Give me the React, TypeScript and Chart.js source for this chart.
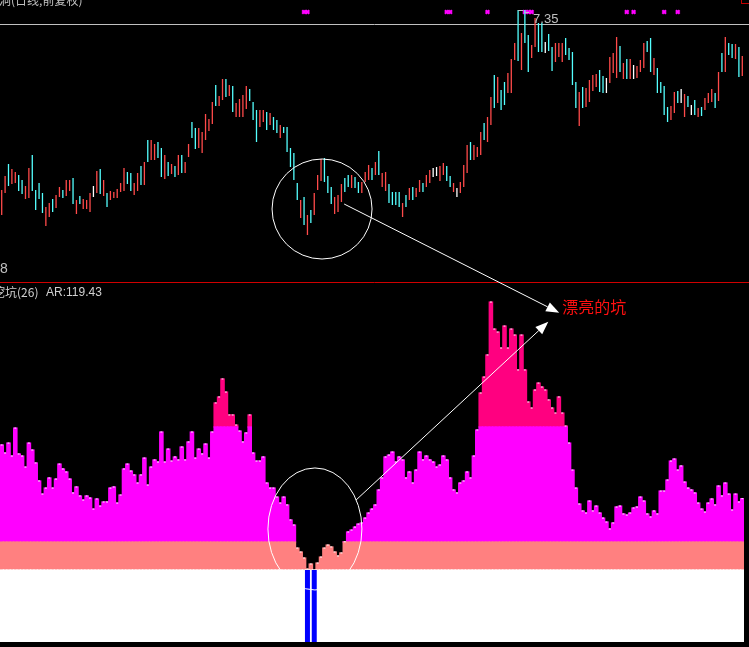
import React, { useEffect, useRef } from 'react';
import { Chart, registerables } from 'chart.js';

Chart.register(...registerables);

// ---- price panel (daily candles) ----
const HIGH = [
  5.55, 5.69, 5.81, 5.76, 5.73, 5.70, 5.65, 5.59, 5.77, 5.90,
  5.55, 5.62, 5.52, 5.38, 5.42, 5.46, 5.50, 5.58, 5.55, 5.65,
  5.65, 5.67, 5.45, 5.49, 5.46, 5.45, 5.52, 5.59, 5.74, 5.76,
  5.65, 5.52, 5.54, 5.53, 5.56, 5.62, 5.77, 5.73, 5.72, 5.62,
  5.72, 5.79, 5.83, 6.05, 6.05, 6.01, 6.03, 5.97, 5.90, 5.83,
  5.81, 5.79, 5.90, 5.90, 5.83, 6.01, 6.23, 6.17, 6.17, 6.13,
  6.31, 6.26, 6.43, 6.60, 6.49, 6.66, 6.66, 6.60, 6.59, 6.42,
  6.46, 6.50, 6.59, 6.56, 6.43, 6.35, 6.35, 6.35, 6.33, 6.32,
  6.28, 6.25, 6.20, 6.18, 6.18, 5.97, 5.92, 5.62, 5.45, 5.48,
  5.30, 5.35, 5.52, 5.70, 5.86, 5.87, 5.69, 5.58, 5.48, 5.50,
  5.61, 5.67, 5.70, 5.70, 5.68, 5.63, 5.63, 5.73, 5.80, 5.77,
  5.83, 5.94, 5.72, 5.73, 5.61, 5.53, 5.53, 5.53, 5.42, 5.50,
  5.57, 5.58, 5.57, 5.65, 5.62, 5.70, 5.75, 5.77, 5.78, 5.79,
  5.82, 5.79, 5.69, 5.62, 5.57, 5.63, 5.80, 6.00, 6.03, 6.00,
  5.98, 6.13, 6.22, 6.28, 6.48, 6.70, 6.68, 6.55, 6.63, 6.72,
  6.86, 7.02, 7.35, 7.12, 7.35, 7.10, 7.00, 7.27, 7.22, 7.22,
  7.03, 7.11, 6.98, 7.02, 7.02, 7.02, 7.07, 6.97, 6.93, 6.63,
  6.53, 6.58, 6.57, 6.65, 6.70, 6.71, 6.75, 6.69, 6.67, 6.88,
  6.92, 7.08, 6.99, 6.82, 6.86, 6.86, 6.80, 6.79, 6.85, 7.02,
  7.04, 7.07, 6.87, 6.77, 6.63, 6.59, 6.38, 6.39, 6.53, 6.54,
  6.56, 6.51, 6.49, 6.40, 6.45, 6.37, 6.38, 6.47, 6.52, 6.56,
  6.52, 6.73, 6.92, 7.08, 7.02, 7.01, 7.01, 6.98, 6.89,
];
const LOW = [
  5.30, 5.52, 5.59, 5.61, 5.62, 5.54, 5.51, 5.46, 5.47, 5.54,
  5.35, 5.46, 5.32, 5.19, 5.28, 5.33, 5.37, 5.48, 5.47, 5.49,
  5.54, 5.41, 5.31, 5.41, 5.36, 5.36, 5.33, 5.48, 5.52, 5.51,
  5.49, 5.38, 5.45, 5.47, 5.47, 5.53, 5.54, 5.61, 5.54, 5.50,
  5.54, 5.60, 5.60, 5.83, 5.85, 5.85, 5.87, 5.68, 5.66, 5.69,
  5.71, 5.68, 5.70, 5.72, 5.72, 5.88, 6.07, 5.96, 5.97, 5.92,
  6.05, 6.14, 6.21, 6.39, 6.39, 6.45, 6.48, 6.49, 6.33, 6.28,
  6.28, 6.28, 6.36, 6.44, 6.25, 6.03, 6.18, 6.23, 6.15, 6.20,
  6.15, 6.12, 6.07, 6.12, 5.93, 5.78, 5.65, 5.45, 5.27, 5.20,
  5.10, 5.22, 5.30, 5.55, 5.64, 5.63, 5.52, 5.41, 5.31, 5.33,
  5.43, 5.53, 5.58, 5.57, 5.57, 5.52, 5.52, 5.63, 5.65, 5.65,
  5.70, 5.70, 5.58, 5.54, 5.42, 5.40, 5.40, 5.38, 5.28, 5.38,
  5.45, 5.45, 5.48, 5.53, 5.53, 5.58, 5.62, 5.68, 5.69, 5.64,
  5.70, 5.64, 5.58, 5.53, 5.48, 5.52, 5.58, 5.72, 5.85, 5.85,
  5.88, 5.90, 6.05, 6.03, 6.20, 6.37, 6.42, 6.35, 6.40, 6.52,
  6.52, 6.85, 6.84, 6.75, 7.02, 6.73, 6.87, 6.98, 6.93, 6.93,
  6.92, 6.94, 6.74, 6.83, 6.88, 6.83, 6.90, 6.85, 6.60, 6.37,
  6.19, 6.37, 6.38, 6.43, 6.54, 6.58, 6.53, 6.52, 6.52, 6.62,
  6.72, 6.67, 6.73, 6.66, 6.66, 6.66, 6.66, 6.67, 6.73, 6.77,
  6.93, 6.73, 6.70, 6.52, 6.52, 6.30, 6.23, 6.25, 6.32, 6.42,
  6.42, 6.28, 6.38, 6.30, 6.30, 6.28, 6.29, 6.35, 6.42, 6.43,
  6.37, 6.44, 6.73, 6.73, 6.90, 6.87, 6.86, 6.68, 6.69,
];
// r = up (red), c = down (cyan), w = flat (white)
const DIR =
  'rrcrrccrrc' + 'cccrrcrrcr' + 'rcrcrrrwrc' + 'rcrrrrrccr' + 'rcrcrrccrc' +
  'rcrcrrccrr' + 'rrrcrrcrcr' + 'rrrcccrrcr' + 'ccrcccccrc' + 'rcrrrcccrr' +
  'rccrccrrrc' + 'rcrrccccrc' + 'rcrrcrrwwr' + 'rccrwrrrcr' + 'rrcrrcrccr' +
  'rrcrccrrcc' + 'wccrrrcccc' + 'rcrrrrccwr' + 'rrcrcrwrrr' + 'ccrccccrrc' +
  'wrcwcrcrrr' + 'crcrccrcr';

const HIGH_LABEL = '7.35';
const HIGH_INDEX = 152;
const FRAME_PRICE = 7.21;
const SIGNAL_PRICE = 7.33;
const SIGNALS = [89, 90, 131, 132, 143, 154, 155, 156, 184, 186, 195, 199];

// ---- indicator panel: 挖坑(26) AR ----
const AR = [
  164.2, 157.5, 165.8, 155.0, 178.3, 156.7, 155.0, 145.8, 165.8, 160.0,
  149.2, 134.2, 123.3, 128.3, 136.7, 128.3, 135.8, 148.3, 144.2, 141.7,
  135.8, 124.2, 129.2, 121.7, 118.3, 121.7, 120.0, 110.8, 119.2, 113.3,
  116.7, 116.7, 128.3, 129.2, 115.8, 122.5, 144.2, 148.3, 142.5, 139.2,
  132.5, 139.2, 153.3, 130.8, 145.8, 151.7, 150.0, 175.0, 150.0, 160.8,
  150.8, 154.2, 151.7, 162.5, 151.7, 166.7, 175.0, 153.3, 160.8, 156.7,
  165.0, 153.3, 175.0, 199.2, 204.2, 219.2, 208.3, 189.2, 189.2, 180.8,
  175.8, 166.7, 174.2, 189.2, 157.5, 150.8, 150.8, 154.2, 132.5, 128.3,
  128.3, 120.8, 115.8, 120.8, 114.2, 101.7, 97.5, 78.3, 75.0, 70.0,
  60.8, 65.0, 60.0, 65.8, 70.8, 78.3, 80.8, 79.2, 75.0, 71.7,
  74.2, 83.5, 91.7, 93.3, 95.8, 98.3, 99.2, 103.3, 107.5, 110.8,
  114.2, 126.7, 136.7, 154.2, 155.8, 158.3, 150.0, 154.2, 151.7, 136.7,
  141.7, 132.5, 143.3, 158.3, 151.7, 155.0, 151.7, 150.0, 145.8, 147.5,
  155.0, 151.7, 136.7, 126.7, 124.2, 132.5, 134.2, 141.7, 136.7, 155.0,
  176.7, 207.5, 220.8, 239.2, 283.3, 260.8, 258.3, 245.0, 263.3, 245.0,
  260.8, 255.8, 226.7, 255.8, 226.7, 200.0, 195.0, 210.0, 215.8, 212.5,
  210.0, 201.7, 195.0, 190.8, 204.2, 190.8, 180.0, 165.8, 143.3, 128.3,
  115.0, 109.2, 107.5, 117.5, 109.2, 113.3, 107.5, 103.3, 100.0, 94.2,
  99.2, 112.5, 113.3, 106.7, 105.8, 107.5, 111.7, 112.5, 120.8, 117.5,
  106.7, 104.2, 109.2, 106.7, 125.8, 125.8, 135.0, 150.8, 152.5, 143.3,
  146.7, 133.3, 128.3, 126.7, 124.2, 115.8, 110.8, 108.3, 115.8, 119.2,
  114.2, 130.0, 121.7, 132.5, 123.3, 110.0, 123.3, 116.7, 119.43,
];
const AR_WHITE = 60;
const AR_SALMON = 83.3;
const AR_MAGENTA = 179.2;
const PIT_BARS = [90, 92];
const AR_NAME = '挖坑(26)';
const AR_TEXT = 'AR:119.43';

// annotations (data coordinates)
const NOTE_TEXT = '漂亮的坑';
const NOTE_AT = { index: 165, ar: 286 };
const CIRCLE_TOP = { index: 94.3, price: 5.36, r: 50 };
const ELLIPSE_BOT = { index: 92.2, ar: 94.2, rx: 47, ry: 61 };
const ARROW_1 = { from: { index: 100.8, price: 5.41 }, to: { index: 164.1, ar: 274.4 } };
const ARROW_2 = { from: { index: 104.3, ar: 118.3 }, to: { index: 160.9, ar: 266.9 } };

const LABELS = HIGH.map((_, i) => String(i + 1));
const DIR_COLOR: Record<string, string> = { r: '#FF4A4A', c: '#54FFFF', w: '#FFFFFF' };

function drawArrow(ctx: CanvasRenderingContext2D, x1: number, y1: number, x2: number, y2: number) {
  const a = Math.atan2(y2 - y1, x2 - x1);
  const L = 13;
  const H = 5;
  const bx = x2 - L * Math.cos(a);
  const by = y2 - L * Math.sin(a);
  ctx.beginPath();
  ctx.moveTo(x1, y1);
  ctx.lineTo(bx, by);
  ctx.stroke();
  ctx.beginPath();
  ctx.moveTo(x2, y2);
  ctx.lineTo(bx + H * Math.sin(a), by - H * Math.cos(a));
  ctx.lineTo(bx - H * Math.sin(a), by + H * Math.cos(a));
  ctx.closePath();
  ctx.fill();
}

const overlayPlugin = {
  id: 'overlay',
  beforeDraw(chart: any) {
    const { ctx, width, height } = chart;
    ctx.save();
    ctx.fillStyle = '#000000';
    ctx.fillRect(0, 0, width, height);
    ctx.restore();
  },
  beforeDatasetsDraw(chart: any) {
    const { ctx, width } = chart;
    const yT = chart.scales.yTop;
    ctx.save();
    ctx.lineWidth = 1;
    ctx.strokeStyle = '#C0C0C0';
    const gy = Math.round(yT.getPixelForValue(FRAME_PRICE)) + 0.5;
    ctx.beginPath();
    ctx.moveTo(0, gy);
    ctx.lineTo(width, gy);
    ctx.stroke();
    ctx.strokeStyle = '#D00000';
    const sy = Math.round(yT.bottom) + 0.5;
    ctx.beginPath();
    ctx.moveTo(0, sy);
    ctx.lineTo(width, sy);
    ctx.stroke();
    ctx.restore();
  },
  afterDatasetsDraw(chart: any) {
    const { ctx } = chart;
    const x = chart.scales.x;
    const yT = chart.scales.yTop;
    const yB = chart.scales.yBot;
    ctx.save();
    ctx.strokeStyle = '#FFFFFF';
    ctx.fillStyle = '#FFFFFF';
    ctx.lineWidth = 1;
    ctx.beginPath();
    ctx.arc(x.getPixelForValue(CIRCLE_TOP.index), yT.getPixelForValue(CIRCLE_TOP.price), CIRCLE_TOP.r, 0, Math.PI * 2);
    ctx.stroke();
    ctx.beginPath();
    ctx.ellipse(x.getPixelForValue(ELLIPSE_BOT.index), yB.getPixelForValue(ELLIPSE_BOT.ar), ELLIPSE_BOT.rx, ELLIPSE_BOT.ry, 0, 0, Math.PI * 2);
    ctx.stroke();
    drawArrow(ctx,
      x.getPixelForValue(ARROW_1.from.index), yT.getPixelForValue(ARROW_1.from.price),
      x.getPixelForValue(ARROW_1.to.index), yB.getPixelForValue(ARROW_1.to.ar));
    drawArrow(ctx,
      x.getPixelForValue(ARROW_2.from.index), yB.getPixelForValue(ARROW_2.from.ar),
      x.getPixelForValue(ARROW_2.to.index), yB.getPixelForValue(ARROW_2.to.ar));
    const hx = x.getPixelForValue(HIGH_INDEX);
    const hy = yT.getPixelForValue(HIGH[HIGH_INDEX]);
    ctx.strokeStyle = '#C0C0C0';
    ctx.beginPath();
    ctx.moveTo(hx, Math.round(hy) + 0.5);
    ctx.lineTo(hx + 5, Math.round(hy) + 0.5);
    ctx.moveTo(hx + 7, Math.round(hy) + 2.5);
    ctx.lineTo(hx + 11, Math.round(hy) + 2.5);
    ctx.stroke();
    ctx.fillStyle = '#C0C0C0';
    ctx.font = "13px 'Liberation Sans'";
    ctx.textBaseline = 'alphabetic';
    ctx.fillText(HIGH_LABEL, hx + 15, hy + 13);
    ctx.restore();
  },
  afterDraw(chart: any) {
    const { ctx, width } = chart;
    const x = chart.scales.x;
    const yB = chart.scales.yBot;
    const yT = chart.scales.yTop;
    ctx.save();
    ctx.fillStyle = '#C0C0C0';
    ctx.textBaseline = 'top';
    ctx.font = "12px 'Noto Sans CJK SC'";
    ctx.fillText('洞(日线,前复权)', -1, -6);
    ctx.textBaseline = 'alphabetic';
    ctx.font = "14px 'Liberation Sans'";
    ctx.fillText('8', 0, yT.bottom - 9);
    ctx.fillStyle = '#D0D0D0';
    ctx.textBaseline = 'middle';
    ctx.font = "12px 'Noto Sans CJK SC'";
    ctx.fillText(AR_NAME, -7, yT.bottom + 10);
    ctx.textBaseline = 'alphabetic';
    ctx.font = "12px 'Liberation Sans'";
    ctx.fillText(AR_TEXT, 46, yT.bottom + 14);
    ctx.fillStyle = '#FF1010';
    ctx.textBaseline = 'top';
    ctx.font = "16px 'Noto Sans CJK SC'";
    ctx.fillText(NOTE_TEXT, x.getPixelForValue(NOTE_AT.index), yB.getPixelForValue(NOTE_AT.ar));
    ctx.strokeStyle = '#C00000';
    ctx.lineWidth = 1;
    ctx.strokeRect(width - 7.5, -2.5, 8, 6);
    ctx.restore();
  },
};

export default function App() {
  const ref = useRef<HTMLCanvasElement | null>(null);

  useEffect(() => {
    document.body.style.margin = '0';
    document.body.style.background = '#000000';
    const canvas = ref.current;
    if (!canvas) return;

    const W = AR_WHITE;
    const S = AR_SALMON;
    const M = AR_MAGENTA;
    const white = AR.map((v) => Math.min(v, W));
    const salmon = AR.map((v) => (v > W ? Math.min(v, S) - W : null));
    const magenta = AR.map((v) => (v > S ? Math.min(v, M) - S : null));
    const deep = AR.map((v) => (v > M ? v - M : null));
    const pit = AR.map((_, i) => (PIT_BARS.includes(i) ? W : null));
    const signals = LABELS.map((_, i) => (SIGNALS.includes(i) ? SIGNAL_PRICE : null));
    const candles = LOW.map((l, i) => [l, HIGH[i]]);
    const candleColors = DIR.split('').map((d) => DIR_COLOR[d]);

    const layer = (data: any[], color: string) => ({
      type: 'bar' as const,
      data,
      yAxisID: 'yBot',
      stack: 'ar',
      grouped: false,
      backgroundColor: color,
      borderWidth: 0,
      barPercentage: 1,
      categoryPercentage: 1,
      inflateAmount: 0.6,
    });

    const chart = new Chart(canvas, {
      type: 'bar',
      data: {
        labels: LABELS,
        datasets: [
          {
            type: 'bar',
            data: pit,
            yAxisID: 'yBot',
            stack: 'pit',
            grouped: false,
            backgroundColor: '#0000FF',
            borderWidth: 0,
            barThickness: 5,
            inflateAmount: 0,
          } as any,
          {
            type: 'line',
            data: AR,
            yAxisID: 'yBot',
            stack: 'marks',
            showLine: false,
            pointStyle: 'line',
            pointRadius: 1,
            pointBorderColor: '#FFFFFF',
            pointBorderWidth: 1,
            pointBackgroundColor: '#FFFFFF',
          } as any,
          {
            type: 'bar',
            data: candles,
            yAxisID: 'yTop',
            grouped: false,
            backgroundColor: candleColors,
            borderWidth: 0,
            barThickness: 1.3,
            inflateAmount: 0,
          } as any,
          {
            type: 'line',
            data: signals,
            yAxisID: 'yTop',
            showLine: false,
            pointStyle: 'crossRot',
            pointRadius: 2.6,
            pointBorderColor: '#FF00FF',
            pointBorderWidth: 2.2,
          } as any,
          layer(white, '#FFFFFF') as any,
          layer(salmon, '#FF8080') as any,
          layer(magenta, '#FF00FF') as any,
          layer(deep, '#FF0080') as any,
        ],
      },
      options: {
        responsive: false,
        devicePixelRatio: 1,
        animation: false,
        events: [],
        layout: { autoPadding: false, padding: { left: 0, right: 5, top: 0, bottom: 5 } },
        plugins: { legend: { display: false }, tooltip: { enabled: false } },
        scales: {
          x: { type: 'category', display: false, offset: true, grid: { display: false } },
          yTop: {
            type: 'linear', display: false, position: 'left', stack: 'panes',
            stackWeight: 282, weight: 1, min: 4.63, max: 7.45, stacked: false,
          },
          yBot: {
            type: 'linear', display: false, position: 'left', stack: 'panes',
            stackWeight: 360, weight: 0, min: 0, max: 300, stacked: true,
          },
        } as any,
      } as any,
      plugins: [overlayPlugin],
    });
    return () => chart.destroy();
  }, []);

  return (
    <canvas
      ref={ref}
      width={749}
      height={647}
      style={{ position: 'fixed', left: 0, top: 0, display: 'block', width: 749, height: 647 }}
    />
  );
}
